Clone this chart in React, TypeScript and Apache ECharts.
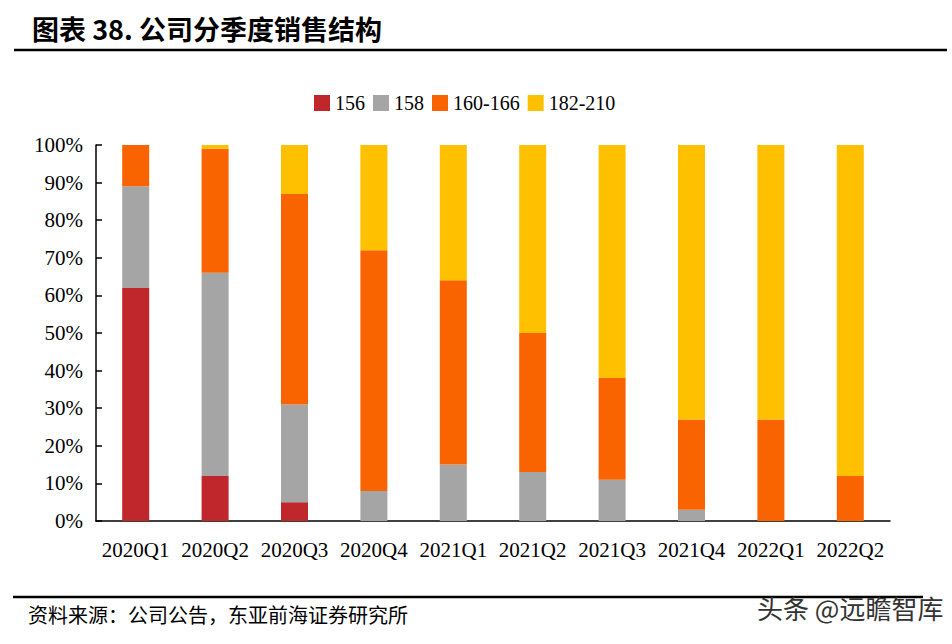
import React, { useEffect, useRef } from "react";
import * as echarts from "echarts";

const categories = ["2020Q1", "2020Q2", "2020Q3", "2020Q4", "2021Q1", "2021Q2", "2021Q3", "2021Q4", "2022Q1", "2022Q2"];
const seriesNames = ["156", "158", "160-166", "182-210"];
const s156 = [62, 12, 5, 0, 0, 0, 0, 0, 0, 0];
const s158 = [27, 54, 26, 8, 15, 13, 11, 3, 0, 0];
const s160 = [11, 33, 56, 64, 49, 37, 27, 24, 27, 12];
const s182 = [0, 1, 13, 28, 36, 50, 62, 73, 73, 88];
const colors = ["#C0272D", "#A5A5A5", "#FA6400", "#FFC000"];

const TITLE = "图表 38. 公司分季度销售结构";
const SOURCE = "资料来源：公司公告，东亚前海证券研究所";
const WATERMARK = "头条 @远瞻智库";

export default function App() {
  const ref = useRef<HTMLDivElement>(null);
  useEffect(() => {
    document.body.style.margin = "0";
    const chart = echarts.init(ref.current!, null, { renderer: "svg" });
    const serif = "'Liberation Serif', 'Times New Roman', serif";
    const cjk = "'Noto Sans CJK SC', sans-serif";
    const data = [s156, s158, s160, s182];
    chart.setOption({
      animation: false,
      backgroundColor: "#ffffff",
      grid: { left: 96, right: 62, top: 145, bottom: 123 },
      legend: {
        left: 309,
        top: 88,
        itemWidth: 16,
        itemHeight: 16,
        itemGap: 8,
        icon: "rect",
        textStyle: { fontFamily: serif, fontSize: 20, color: "#000" },
        data: seriesNames,
      },
      xAxis: {
        type: "category",
        data: categories,
        axisLine: { lineStyle: { color: "#000", width: 1.5 } },
        axisTick: { show: false },
        axisLabel: { color: "#000", fontFamily: serif, fontSize: 21, margin: 18, interval: 0 },
      },
      yAxis: {
        type: "value",
        min: 0,
        max: 100,
        interval: 10,
        axisLine: { show: true, lineStyle: { color: "#000", width: 1.5 } },
        axisTick: { show: true, inside: true, length: 6, lineStyle: { color: "#000", width: 1.5 } },
        splitLine: { show: false },
        axisLabel: { color: "#000", fontFamily: serif, fontSize: 21, margin: 13, formatter: "{value}%" },
      },
      series: seriesNames.map((name, i) => ({
        name,
        type: "bar",
        stack: "total",
        barWidth: 27,
        data: data[i],
        itemStyle: { color: colors[i] },
      })),
      graphic: [
        {
          type: "text",
          left: 32,
          top: 15,
          style: { text: TITLE, font: `bold 27px ${cjk}`, fill: "#000" },
        },
        {
          type: "line",
          shape: { x1: 14, y1: 50, x2: 947, y2: 50 },
          style: { stroke: "#000", lineWidth: 2.5 },
        },
        {
          type: "line",
          shape: { x1: 13, y1: 597, x2: 923, y2: 597 },
          style: { stroke: "#000", lineWidth: 2.5 },
        },
        {
          type: "text",
          left: 28,
          top: 604,
          style: { text: SOURCE, font: `20px ${cjk}`, fill: "#000" },
        },
        {
          type: "text",
          left: 757,
          top: 594,
          style: { text: WATERMARK, font: `26px ${cjk}`, fill: "#333" },
        },
      ],
    });
    return () => chart.dispose();
  }, []);
  return <div ref={ref} style={{ width: 952, height: 644 }} />;
}
